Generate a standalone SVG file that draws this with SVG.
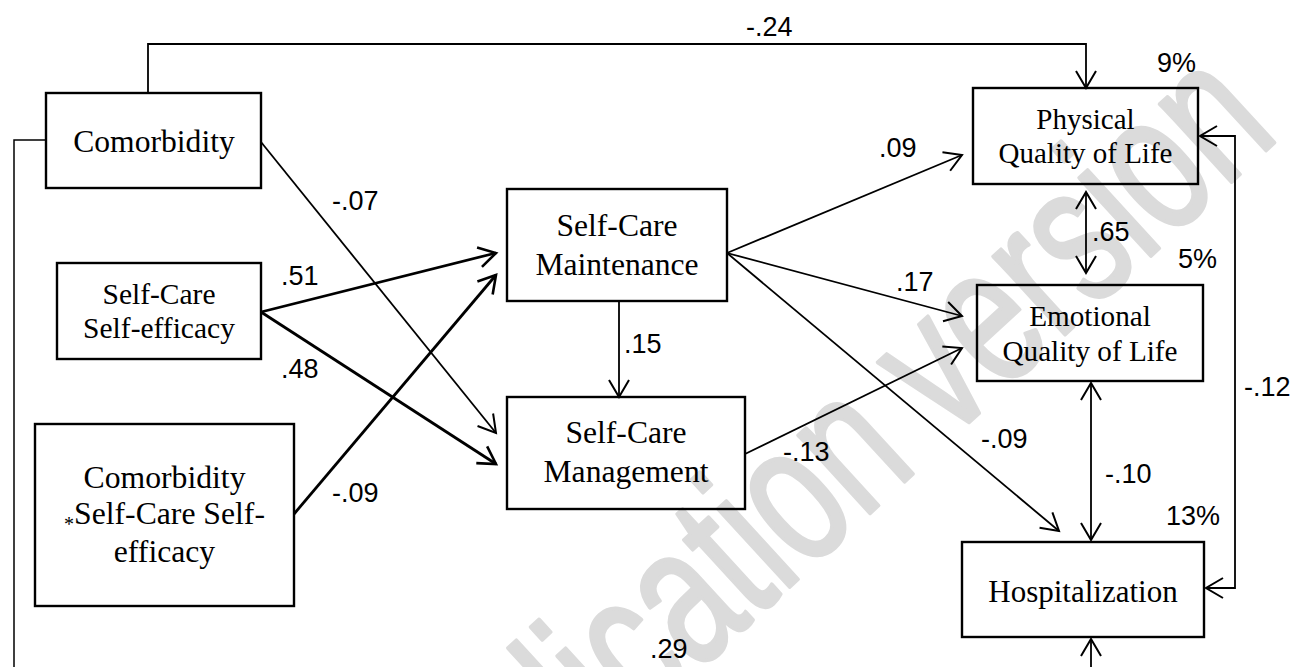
<svg xmlns="http://www.w3.org/2000/svg" width="1297" height="667" viewBox="0 0 1297 667">
<style>
.box{fill:none;stroke:#000;stroke-width:2.4}
.nt{font-family:"Liberation Serif","Times New Roman",serif;fill:#000;text-anchor:middle}
.lb{font-family:"Liberation Sans",Arial,sans-serif;font-size:27px;fill:#000}
.c{fill:none;stroke:#000;stroke-width:1.8}
.cl{fill:none;stroke:#000;stroke-width:1.5}
.ck{fill:none;stroke:#000;stroke-width:2.8}
.wm{font-family:"Liberation Sans",Arial,sans-serif;font-size:200px;fill:#dbdbdb;stroke:#dbdbdb;stroke-width:4;stroke-linejoin:round;stroke-linecap:round;text-anchor:middle}
</style>
<defs>
<marker id="arr" markerUnits="userSpaceOnUse" markerWidth="40" markerHeight="40" viewBox="-20 -20 40 40" refX="0" refY="0" orient="auto-start-reverse" overflow="visible">
<path d="M-17,-10 L0,0 L-17,10" fill="none" stroke="#000" stroke-width="2"/>
</marker>
<marker id="arrT" markerUnits="userSpaceOnUse" markerWidth="40" markerHeight="40" viewBox="-20 -20 40 40" refX="0" refY="0" orient="auto-start-reverse" overflow="visible">
<path d="M-17,-10 L0,0 L-17,10" fill="none" stroke="#000" stroke-width="2.6"/>
</marker>
</defs>
<rect x="0" y="0" width="1297" height="667" fill="#fff"/>
<text class="wm" transform="translate(940,449) rotate(-42.5) scale(0.7,1)" x="0" y="0">lication version</text>

<g id="connectors">
<path class="c" d="M148,93 V44 H1086 V88" marker-end="url(#arr)"/>
<path class="cl" d="M46,140 H14 V667"/>
<path class="c" d="M1091,667 V639" marker-end="url(#arr)"/>
<path class="c" d="M261,142 L496,433" marker-end="url(#arr)"/>
<path class="ck" d="M261,312 L496,253" marker-end="url(#arrT)"/>
<path class="ck" d="M261,312 L496,464" marker-end="url(#arrT)"/>
<path class="ck" d="M294,514 L496,275" marker-end="url(#arrT)"/>
<path class="c" d="M619,301 V397" marker-end="url(#arr)"/>
<path class="c" d="M727,253 L962,155" marker-end="url(#arr)"/>
<path class="c" d="M727,253 L962,316" marker-end="url(#arr)"/>
<path class="c" d="M727,253 L1059,531" marker-end="url(#arr)"/>
<path class="c" d="M745,454 L962,348" marker-end="url(#arr)"/>
<path class="c" d="M1086,192 V273" marker-start="url(#arr)" marker-end="url(#arr)"/>
<path class="c" d="M1091,383 V540" marker-start="url(#arr)" marker-end="url(#arr)"/>
<path class="c" d="M1200,136 H1235 V588 H1206" marker-start="url(#arr)" marker-end="url(#arr)"/>
<text class="lb" x="746" y="36">-.24</text>
<text class="lb" x="332" y="210">-.07</text>
<text class="lb" x="281" y="285">.51</text>
<text class="lb" x="281" y="378">.48</text>
<text class="lb" x="332" y="502">-.09</text>
<text class="lb" x="624" y="353">.15</text>
<text class="lb" x="879" y="157">.09</text>
<text class="lb" x="896" y="291">.17</text>
<text class="lb" x="981" y="448">-.09</text>
<text class="lb" x="783" y="461">-.13</text>
<text class="lb" x="1092" y="241">.65</text>
<text class="lb" x="1105" y="483">-.10</text>
<text class="lb" x="1244" y="396">-.12</text>
<text class="lb" x="650" y="658">.29</text>
<text class="lb" x="1157" y="72">9%</text>
<text class="lb" x="1178" y="268">5%</text>
<text class="lb" x="1166" y="525">13%</text>
</g>

<g id="comorbidity">
<rect class="box" x="46" y="93" width="215" height="95"/>
<text class="nt" font-size="31.6" x="154" y="152">Comorbidity</text>
</g>
<g id="self-efficacy">
<rect class="box" x="57" y="263" width="204" height="96"/>
<text class="nt" font-size="29.5" x="159" y="304">Self-Care</text>
<text class="nt" font-size="29.5" x="159" y="338">Self-efficacy</text>
</g>
<g id="interaction">
<rect class="box" x="35" y="424" width="259" height="182"/>
<text class="nt" font-size="31.7" x="164.5" y="488">Comorbidity</text>
<text class="nt" font-size="31.7" x="164.5" y="524"><tspan font-size="20" dy="7">*</tspan><tspan dy="-7">Self-Care Self-</tspan></text>
<text class="nt" font-size="31.7" x="164.5" y="562">efficacy</text>
</g>
<g id="maintenance">
<rect class="box" x="507" y="189" width="220" height="112"/>
<text class="nt" font-size="31.6" x="617" y="236">Self-Care</text>
<text class="nt" font-size="31.6" x="617" y="275">Maintenance</text>
</g>
<g id="management">
<rect class="box" x="507" y="397" width="238" height="112"/>
<text class="nt" font-size="31.6" x="626" y="443">Self-Care</text>
<text class="nt" font-size="31.6" x="626" y="482">Management</text>
</g>
<g id="physical">
<rect class="box" x="973" y="88" width="225" height="96"/>
<text class="nt" font-size="29" x="1085.5" y="129">Physical</text>
<text class="nt" font-size="29" x="1085.5" y="163">Quality of Life</text>
</g>
<g id="emotional">
<rect class="box" x="977" y="285" width="226" height="96"/>
<text class="nt" font-size="29.2" x="1090" y="326">Emotional</text>
<text class="nt" font-size="29.2" x="1090" y="361">Quality of Life</text>
</g>
<g id="hospitalization">
<rect class="box" x="962" y="542" width="242" height="95"/>
<text class="nt" font-size="31" x="1083" y="602">Hospitalization</text>
</g>
</svg>
